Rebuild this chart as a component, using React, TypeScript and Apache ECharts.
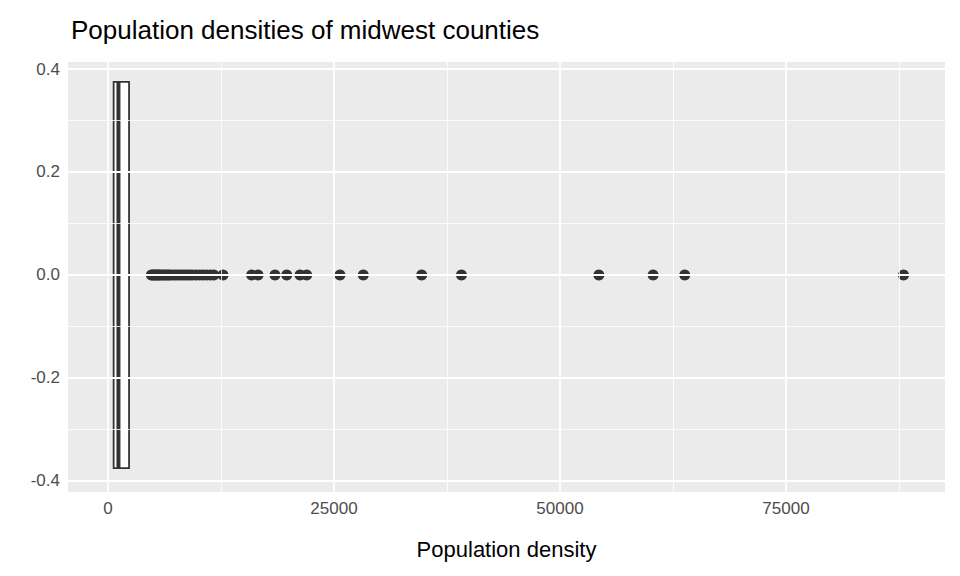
import React, { useEffect, useRef } from 'react';
import * as echarts from 'echarts';

// box statistics (population density)
const boxStats = { low: 85, q1: 622, median: 1156, q3: 2330, high: 4500 };
const outliers = [
  4800, 4950, 5100, 5250, 5400, 5550, 5700, 5900, 6100, 6300, 6500, 6700, 6900,
  7200, 7500, 7800, 8100, 8400, 8700, 9000, 9300, 9700, 10100, 10500, 10900,
  11300, 11700, 12720, 15890, 16600, 18470, 19770, 21240, 21980, 25660, 28240,
  34700, 39100, 54300, 60300, 63800, 88000,
];
const xTicks = [0, 25000, 50000, 75000];
const xMinor = [12500, 37500, 62500, 87500];
const yTicks = [-0.4, -0.2, 0, 0.2, 0.4];
const yMinor = [-0.3, -0.1, 0.1, 0.3];
const boxHalf = 0.375;

const X_MIN = -4425;
const X_MAX = 92590;
const Y_MIN = -0.4214;
const Y_MAX = 0.4136;

const App = () => {
  const chartRef = useRef<HTMLDivElement>(null);

  useEffect(() => {
    const chart = echarts.init(chartRef.current, null, { renderer: 'svg' });
    const gridLines = [
      ...xMinor.map((v) => ({ xAxis: v, lineStyle: { width: 0.8 } })),
      ...yMinor.map((v) => ({ yAxis: v, lineStyle: { width: 0.8 } })),
      ...xTicks.map((v) => ({ xAxis: v, lineStyle: { width: 1.8 } })),
      ...yTicks.map((v) => ({ yAxis: v, lineStyle: { width: 1.8 } })),
    ];
    chart.setOption({
      animation: false,
      backgroundColor: '#ffffff',
      title: {
        text: 'Population densities of midwest counties',
        left: 66,
        top: 12,
        textStyle: { fontFamily: 'Liberation Sans', fontSize: 26, fontWeight: 'normal', color: '#000' },
      },
      grid: { left: 68, right: 15, top: 62, bottom: 84, backgroundColor: '#ebebeb', show: true, borderWidth: 0 },
      xAxis: {
        type: 'value', min: X_MIN, max: X_MAX,
        name: 'Population density', nameLocation: 'middle', nameGap: 46,
        nameTextStyle: { fontFamily: 'Liberation Sans', fontSize: 22, color: '#000' },
        axisLine: { show: false },
        axisTick: { show: true, customValues: xTicks, length: 4, lineStyle: { color: '#333' } },
        axisLabel: {
          customValues: xTicks, fontFamily: 'Liberation Sans', fontSize: 17, color: '#4d4d4d', margin: 8,
          formatter: (v: number) => String(v),
        },
        splitLine: { show: false },
      },
      yAxis: {
        type: 'value', min: Y_MIN, max: Y_MAX,
        axisLine: { show: false },
        axisTick: { show: true, customValues: yTicks, length: 4, lineStyle: { color: '#333' } },
        axisLabel: {
          customValues: yTicks, fontFamily: 'Liberation Sans', fontSize: 17, color: '#4d4d4d', margin: 8,
          formatter: (v: number) => v.toFixed(1),
        },
        splitLine: { show: false },
      },
      series: [
        {
          type: 'line', data: [], silent: true,
          markLine: { symbol: 'none', silent: true, label: { show: false }, lineStyle: { color: '#ffffff', type: 'solid' }, data: gridLines },
        },
        {
          type: 'custom',
          z: 3,
          data: [[boxStats.low, boxStats.q1, boxStats.median, boxStats.q3, boxStats.high]],
          renderItem: (params: any, api: any) => {
            const lo = api.coord([api.value(0), 0]);
            const q1t = api.coord([api.value(1), boxHalf]);
            const med = api.coord([api.value(2), 0]);
            const q3b = api.coord([api.value(3), -boxHalf]);
            const hi = api.coord([api.value(4), 0]);
            const stroke = { stroke: '#333333', lineWidth: 1.8 };
            return {
              type: 'group',
              children: [
                { type: 'line', shape: { x1: lo[0], y1: lo[1], x2: q1t[0], y2: lo[1] }, style: stroke },
                { type: 'line', shape: { x1: q3b[0], y1: hi[1], x2: hi[0], y2: hi[1] }, style: stroke },
                { type: 'rect', shape: { x: q1t[0], y: q1t[1], width: q3b[0] - q1t[0], height: q3b[1] - q1t[1] }, style: { fill: '#ffffff', ...stroke } },
                { type: 'line', shape: { x1: med[0], y1: q1t[1], x2: med[0], y2: q3b[1] }, style: { stroke: '#333333', lineWidth: 4 } },
              ],
            };
          },
        },
        {
          type: 'scatter',
          data: outliers.map((v) => [v, 0]),
          symbolSize: 11,
          itemStyle: { color: '#333333', opacity: 1 },
        },
      ],
    });
    return () => chart.dispose();
  }, []);

  return <div ref={chartRef} style={{ position: 'absolute', left: 0, top: 0, width: 960, height: 576 }} />;
};

export default App;
